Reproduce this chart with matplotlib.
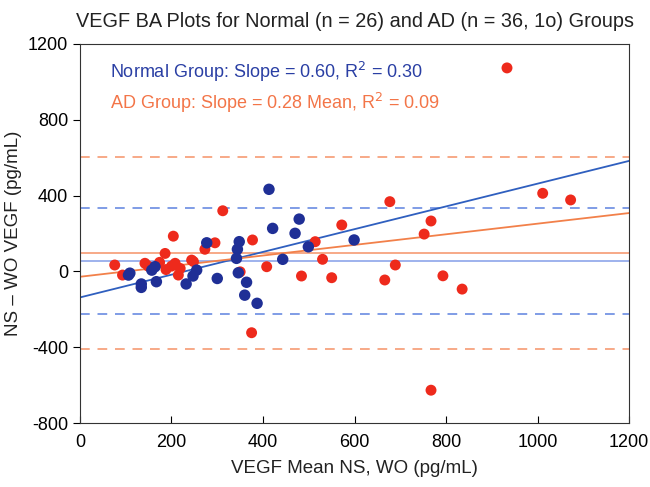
import matplotlib
matplotlib.use('Agg')
import matplotlib.pyplot as plt
import numpy as np

plt.rcParams['font.family'] = ['Liberation Sans', 'DejaVu Sans']
plt.rcParams['axes.unicode_minus'] = False

# Normal group (mean, difference)
normal_x = [106, 134, 134, 164, 167, 232, 247, 255, 277, 300, 344, 348, 342, 346,
            364, 360, 387, 413, 421, 443, 470, 479, 499, 599, 109, 157]
normal_y = [-19, -66, -84, 25, -54, -66, -24, 7, 151, -37, 117, 157, 69, -7,
            -57, -125, -168, 433, 227, 64, 201, 276, 130, 166, -9, 7]

# AD group (incl. one outlier)
ad_x = [76, 93, 142, 149, 186, 204, 200, 208, 219, 215, 244, 248, 273, 295, 312,
        350, 377, 375, 408, 484, 514, 530, 550, 572, 677, 666, 689, 752, 767,
        793, 835, 767, 1011, 1072, 933, 174, 188]
ad_y = [34, -19, 43, 28, 95, 186, 28, 43, 16, -19, 60, 52, 117, 151, 320,
        -2, 166, -323, 25, -24, 157, 64, -33, 245, 368, -45, 34, 197, 266,
        -23, -93, -626, 412, 377, 1073, 48, 10]

# mean difference and limits of agreement
normal_mean, normal_lo, normal_hi = 55, -226, 333
ad_mean, ad_lo, ad_hi = 96, -411, 604

# regression lines (slope, intercept)
normal_fit = (0.60, -137)
ad_fit = (0.28, -28)

blue_pt = '#1f2f96'
red_pt = '#ee2a1c'

fig = plt.figure(figsize=(6.5, 4.87), dpi=100)
ax = fig.add_axes([0.123, 0.131, 0.845, 0.779])

xs = np.array([0, 1200])
ax.axhline(ad_hi, color='#f7a987', ls=(0, (5, 4)), lw=1.4, zorder=1)
ax.axhline(ad_lo, color='#f7a987', ls=(0, (5, 4)), lw=1.4, zorder=1)
ax.axhline(normal_hi, color='#7f9ce6', ls=(0, (5, 4)), lw=1.4, zorder=1)
ax.axhline(normal_lo, color='#7f9ce6', ls=(0, (5, 4)), lw=1.4, zorder=1)
ax.axhline(ad_mean, color='#f7a987', lw=1.4, zorder=1)
ax.axhline(normal_mean, color='#8da6ea', lw=1.2, zorder=1)
ax.plot(xs, normal_fit[0] * xs + normal_fit[1], color='#2f5fbf', lw=1.3, zorder=2)
ax.plot(xs, ad_fit[0] * xs + ad_fit[1], color='#f2804a', lw=1.3, zorder=2)

ax.scatter(ad_x, ad_y, s=62, color=red_pt, edgecolors='none', zorder=3)
ax.scatter(normal_x, normal_y, s=68, color=blue_pt, edgecolors='none', zorder=4)

ax.text(66, 1052, 'Normal Group: Slope = 0.60, R$^2$ = 0.30', color='#2a3fa4',
        fontsize=13, va='center')
ax.text(66, 888, 'AD Group: Slope = 0.28 Mean, R$^2$ = 0.09', color='#f37548',
        fontsize=13, va='center')

ax.set_xlim(0, 1200)
ax.set_ylim(-800, 1200)
ax.set_xticks(range(0, 1201, 200))
ax.set_yticks(range(-800, 1201, 400))
ax.tick_params(axis='x', direction='in', length=5, labelsize=13, pad=8)
ax.tick_params(axis='y', direction='out', length=5, labelsize=13)
for s in ax.spines.values():
    s.set_color('#333333')
ax.set_xlabel('VEGF Mean NS, WO (pg/mL)', fontsize=13.5, color='#222222', labelpad=6)
ax.set_ylabel('NS \u2013 WO VEGF (pg/mL)', fontsize=13.5, color='#222222')
ax.set_title('VEGF BA Plots for Normal (n = 26) and AD (n = 36, 1o) Groups',
             fontsize=14.3, color='#222222', pad=12)

fig.savefig('out.png', dpi=100)
